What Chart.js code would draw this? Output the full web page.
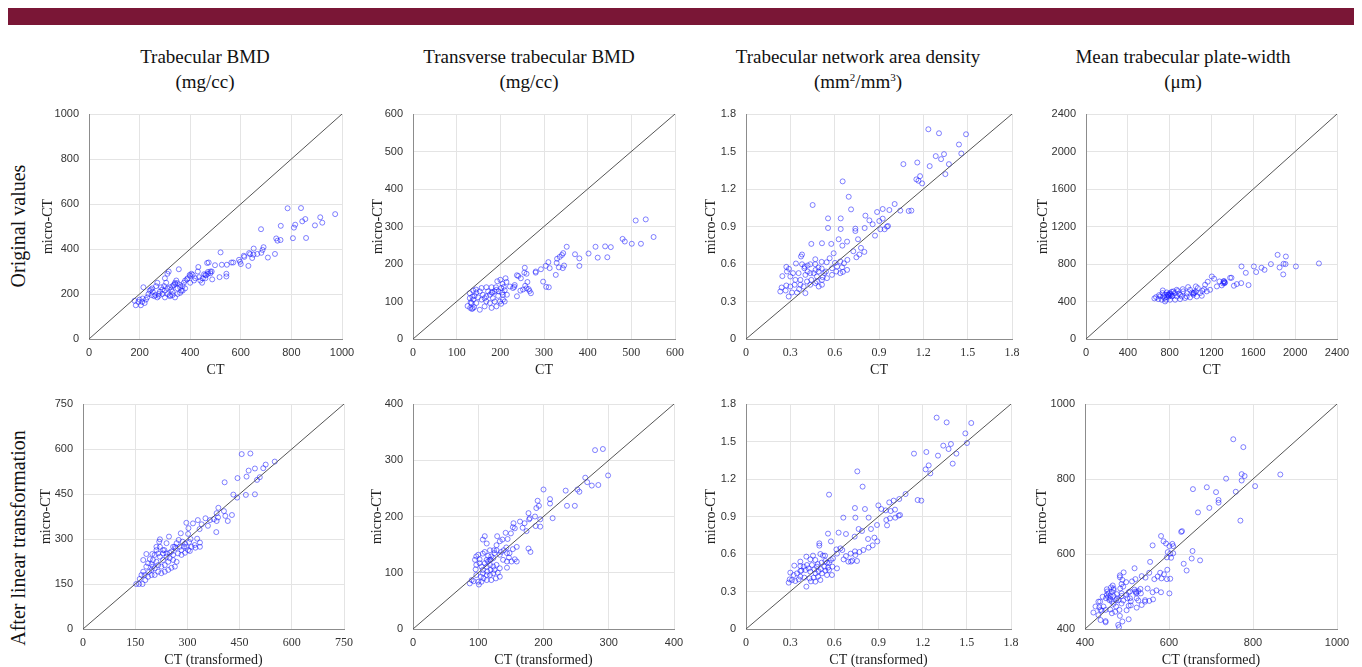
<!DOCTYPE html>
<html>
<head>
<meta charset="utf-8">
<script src="https://cdn.jsdelivr.net/npm/chart.js@4.4.1/dist/chart.umd.min.js"></script>
<style>
  body { margin: 0; background: #fff; width: 1362px; height: 667px; overflow: hidden; position: relative; font-family: "Liberation Serif", serif; }
  .bar { position: absolute; left: 8px; top: 8px; width: 1346px; height: 17px; background: #7a1636; }
  .ct { position: absolute; width: 320px; text-align: center; font-size: 19px; line-height: 25px; color: #111; }
  .ct sup { font-size: 11px; line-height: 0; }
  .rl { position: absolute; font-size: 20px; color: #111; white-space: nowrap; transform: translate(-50%, -50%) rotate(-90deg); }
  canvas { position: absolute; }
</style>
</head>
<body>
<div class="bar"></div>
<div id="titles"></div>
<div id="plots"></div>
<script>
// --- titles ---
const colTitles = ['Trabecular BMD', 'Transverse trabecular BMD', 'Trabecular network area density', 'Mean trabecular plate-width'];
const colUnits = ['(mg/cc)', '(mg/cc)', '(mm<sup>2</sup>/mm<sup>3</sup>)', '(μm)'];
const rowLabels = ['Original values', 'After linear transformation'];

// --- axis ranges and tick labels ---
const bmdTicks = [0, 200, 400, 600, 800, 1000];
const tbmdTicks = [0, 100, 200, 300, 400, 500, 600];
const tnadTicks = [0, 0.3, 0.6, 0.9, 1.2, 1.5, 1.8];
const tpwTicks = [0, 400, 800, 1200, 1600, 2000, 2400];
const bmdTransTicks = [0, 150, 300, 450, 600, 750];
const tbmdTransTicks = [0, 100, 200, 300, 400];
const tnadTransTicks = [0, 0.3, 0.6, 0.9, 1.2, 1.5, 1.8];
const tpwTransTicks = [400, 600, 800, 1000];

// --- points [CT, micro-CT] ---
const bmdOrig = [[785,581],[838,582],[914,541],[973,555],[922,517],[893,505],[855,533],[843,523],[815,508],[810,495],[758,503],[680,488],[740,447],[745,437],[757,440],[806,448],[858,449],[735,378],[707,362],[690,408],[686,396],[681,383],[665,378],[650,375],[645,360],[637,377],[633,382],[630,325],[651,402],[612,370],[614,365],[593,352],[597,343],[600,333],[570,340],[563,340],[545,330],[543,290],[543,278],[525,330],[520,385],[516,275],[498,328],[485,300],[487,265],[480,292],[473,340],[467,338],[470,290],[463,283],[455,288],[450,270],[447,250],[435,275],[432,320],[430,300],[420,270],[415,260],[405,290],[398,285],[400,250],[387,265],[375,250],[370,235],[365,215],[360,230],[355,310],[350,248],[345,260],[340,250],[335,240],[330,210],[325,220],[320,195],[315,300],[310,290],[305,250],[300,270],[297,235],[290,220],[285,230],[280,210],[276,192],[270,250],[265,235],[262,195],[258,190],[252,210],[250,225],[248,195],[245,220],[240,215],[235,200],[230,185],[225,175],[220,160],[215,230],[212,180],[210,165],[205,150],[200,175],[195,165],[185,150],[180,170],[300,185],[310,200],[320,190],[330,195],[340,185],[350,200],[360,205],[370,215],[380,225],[270,185],[275,200],[290,200],[300,215],[310,225],[320,230],[330,235],[340,245],[350,225],[360,240],[380,260],[390,270],[400,280],[410,285],[440,260],[460,285],[470,298],[480,300],[460,270]];
const tbmdOrig = [[510,316],[533,319],[551,272],[501,254],[522,254],[485,260],[480,267],[440,247],[453,245],[418,246],[445,218],[423,217],[402,228],[381,215],[381,195],[371,226],[352,246],[344,229],[341,224],[336,219],[330,214],[329,203],[334,191],[343,189],[346,196],[327,171],[310,205],[313,189],[304,195],[293,186],[281,177],[281,180],[298,153],[305,139],[311,138],[267,128],[257,142],[262,152],[255,177],[256,190],[260,174],[247,162],[241,168],[238,170],[233,144],[232,139],[229,136],[238,114],[246,129],[252,132],[260,135],[265,133],[270,122],[222,140],[212,162],[200,158],[205,147],[193,154],[190,138],[210,130],[206,118],[196,127],[187,127],[180,124],[176,118],[172,127],[160,118],[153,127],[145,124],[141,115],[138,105],[134,96],[130,109],[125,88],[131,83],[135,80],[153,78],[164,87],[176,96],[187,100],[199,100],[206,105],[210,100],[202,94],[191,87],[180,83],[168,100],[157,105],[145,96],[140,85],[137,82],[130,122],[138,129],[144,132],[157,136],[168,138],[180,138],[191,131],[202,136],[208,139],[214,152],[195,115],[183,109],[164,109],[132,98],[136,113],[149,111],[168,114],[182,124],[204,124],[215,118]];
const tnadOrig = [[1.234,1.678],[1.306,1.646],[1.489,1.638],[1.441,1.556],[1.457,1.484],[1.284,1.463],[1.32,1.439],[1.34,1.479],[1.373,1.399],[1.349,1.319],[1.243,1.383],[1.065,1.399],[1.159,1.412],[1.153,1.277],[1.167,1.266],[1.178,1.303],[1.192,1.245],[0.654,1.261],[0.695,1.138],[0.451,1.072],[1.006,1.08],[1.044,1.027],[1.101,1.024],[1.119,1.027],[0.97,1.032],[0.925,1.04],[0.887,1.016],[0.808,0.987],[0.711,1.037],[0.641,0.965],[0.555,0.965],[0.641,0.88],[0.555,0.888],[0.74,0.883],[0.74,0.864],[0.803,0.888],[0.857,0.918],[0.835,0.949],[0.902,0.944],[0.925,0.963],[0.954,0.899],[0.961,0.904],[0.938,0.878],[0.909,0.878],[0.873,0.827],[0.758,0.798],[0.627,0.798],[0.442,0.761],[0.514,0.766],[0.577,0.761],[0.652,0.747],[0.684,0.779],[0.778,0.729],[0.726,0.702],[0.801,0.697],[0.767,0.676],[0.747,0.654],[0.686,0.633],[0.663,0.606],[0.602,0.609],[0.611,0.54],[0.656,0.537],[0.65,0.574],[0.638,0.62],[0.593,0.686],[0.566,0.646],[0.546,0.614],[0.512,0.617],[0.49,0.572],[0.512,0.564],[0.469,0.638],[0.471,0.553],[0.458,0.527],[0.435,0.598],[0.417,0.588],[0.397,0.58],[0.379,0.598],[0.379,0.676],[0.372,0.66],[0.338,0.604],[0.291,0.561],[0.273,0.577],[0.246,0.503],[0.277,0.54],[0.3,0.5],[0.334,0.473],[0.368,0.473],[0.402,0.513],[0.435,0.527],[0.48,0.5],[0.519,0.495],[0.541,0.54],[0.582,0.566],[0.616,0.58],[0.638,0.527],[0.684,0.553],[0.329,0.434],[0.3,0.42],[0.273,0.428],[0.232,0.38],[0.241,0.412],[0.268,0.388],[0.289,0.34],[0.311,0.372],[0.345,0.372],[0.359,0.399],[0.39,0.42],[0.413,0.46],[0.435,0.434],[0.469,0.447],[0.492,0.42],[0.514,0.473],[0.548,0.487],[0.582,0.513],[0.402,0.367],[0.368,0.434],[0.442,0.473],[0.48,0.46],[0.514,0.434],[0.53,0.527],[0.492,0.54],[0.417,0.54],[0.356,0.527],[0.318,0.527],[0.469,0.598],[0.395,0.566]];
const tpwOrig = [[1832,898],[1911,880],[1768,799],[1889,802],[1908,799],[2007,774],[2227,806],[1851,763],[1886,689],[1487,774],[1605,774],[1678,760],[1707,738],[1627,714],[1528,706],[1484,596],[1554,575],[1442,586],[1414,568],[1378,653],[1391,653],[1330,604],[1321,618],[1311,593],[1298,572],[1276,614],[1251,561],[1225,643],[1203,667],[1187,525],[1164,611],[1139,579],[1129,532],[1155,508],[1113,515],[1091,490],[1069,543],[1050,504],[1027,472],[1014,497],[995,525],[963,454],[963,490],[931,508],[915,454],[900,472],[868,454],[868,525],[852,490],[836,508],[820,454],[804,490],[788,472],[772,447],[756,472],[740,454],[731,490],[708,454],[692,426],[670,447],[654,433],[724,419],[756,401],[804,419],[852,419],[900,426],[947,437],[995,444],[1059,454],[1107,461],[772,497],[820,504],[877,511],[925,532],[976,554],[1050,561],[765,419],[791,454],[813,479],[829,461],[887,483],[750,437],[734,518],[699,468],[790,470],[800,480],[810,465],[780,475],[1320,605],[1325,595],[1315,615],[1030,490],[1035,495],[1025,485]];

const bmdTrans = [[456,583],[481,585],[551,558],[525,548],[518,536],[494,535],[476,528],[470,508],[508,506],[500,497],[407,489],[444,503],[468,447],[494,449],[432,448],[443,438],[428,380],[416,360],[409,377],[405,393],[389,404],[384,386],[388,372],[384,360],[376,366],[365,363],[359,344],[352,369],[341,349],[335,333],[383,323],[330,363],[316,352],[297,354],[303,336],[302,317],[309,300],[305,290],[328,301],[336,288],[336,274],[323,271],[307,260],[290,274],[281,319],[293,284],[286,291],[275,297],[269,286],[278,274],[266,269],[259,274],[254,258],[247,308],[240,286],[234,263],[230,252],[221,274],[219,291],[216,252],[211,263],[206,247],[201,230],[192,233],[197,216],[187,219],[182,208],[190,191],[177,180],[173,191],[168,180],[163,167],[161,150],[153,150],[171,150],[179,163],[187,174],[197,180],[206,180],[216,191],[225,186],[235,191],[245,197],[254,204],[264,208],[269,224],[259,230],[249,236],[240,241],[230,230],[221,241],[211,224],[201,208],[245,224],[235,213],[225,208],[216,213],[206,202],[197,197],[230,263],[240,252],[249,254],[259,247],[273,252],[283,247],[293,254],[302,263],[312,274],[321,280],[173,230],[182,250],[199,250],[211,274],[221,299],[264,274],[283,263],[297,274]];
const tbmdTrans = [[279,318],[291,320],[299,273],[264,269],[267,261],[274,255],[284,256],[234,246],[252,248],[255,244],[200,248],[236,219],[248,219],[214,197],[210,231],[210,223],[191,228],[193,219],[189,215],[187,200],[195,195],[195,182],[188,183],[177,206],[179,197],[178,195],[174,174],[177,143],[180,137],[164,191],[171,188],[168,180],[154,188],[156,179],[153,181],[150,170],[142,171],[145,160],[137,159],[133,156],[139,140],[143,145],[144,135],[147,127],[156,124],[159,120],[151,120],[148,135],[153,142],[159,146],[144,109],[128,140],[124,140],[118,140],[129,165],[128,149],[123,126],[119,123],[115,130],[110,137],[113,152],[107,159],[110,165],[100,132],[102,124],[95,123],[97,114],[96,106],[97,96],[100,84],[101,79],[93,85],[90,87],[87,81],[104,93],[107,99],[113,96],[118,96],[123,99],[125,105],[130,100],[133,108],[107,105],[113,111],[118,114],[123,111],[128,114],[110,117],[118,123],[105,111],[102,117],[113,123],[120,129],[125,135],[133,132],[135,137],[107,134],[115,120],[97,129],[138,123],[144,120],[119,105],[114,102],[108,90],[105,84],[113,87],[120,87],[127,90],[133,93]];
const tnadTrans = [[1.295,1.691],[1.363,1.653],[1.53,1.648],[1.49,1.565],[1.501,1.488],[1.392,1.48],[1.34,1.467],[1.376,1.44],[1.429,1.403],[1.304,1.387],[1.141,1.403],[1.225,1.416],[1.22,1.277],[1.241,1.309],[1.252,1.245],[1.404,1.323],[0.756,1.261],[0.792,1.139],[0.564,1.075],[1.084,1.08],[1.166,1.032],[1.191,1.027],[1.041,1.04],[1.003,1.027],[0.973,1.013],[0.899,0.989],[0.919,0.96],[0.949,0.949],[0.983,0.944],[1.012,0.955],[1.037,0.907],[1.046,0.912],[1.014,0.891],[0.978,0.885],[0.953,0.872],[0.833,0.891],[0.74,0.968],[0.661,0.891],[0.743,0.891],[0.808,0.96],[0.765,0.8],[0.849,0.8],[0.958,0.829],[0.89,0.832],[0.788,0.784],[0.557,0.763],[0.629,0.771],[0.679,0.76],[0.738,0.739],[0.829,0.72],[0.872,0.731],[0.86,0.669],[0.892,0.701],[0.833,0.651],[0.797,0.632],[0.74,0.621],[0.77,0.616],[0.711,0.603],[0.722,0.547],[0.695,0.539],[0.754,0.544],[0.743,0.592],[0.713,0.539],[0.498,0.685],[0.498,0.667],[0.577,0.701],[0.614,0.637],[0.641,0.645],[0.654,0.632],[0.679,0.584],[0.663,0.557],[0.618,0.603],[0.591,0.565],[0.577,0.552],[0.55,0.531],[0.564,0.531],[0.539,0.544],[0.523,0.587],[0.537,0.587],[0.505,0.6],[0.455,0.587],[0.437,0.557],[0.41,0.579],[0.369,0.504],[0.376,0.467],[0.405,0.472],[0.426,0.485],[0.464,0.477],[0.473,0.445],[0.493,0.461],[0.509,0.48],[0.532,0.499],[0.557,0.491],[0.587,0.499],[0.618,0.485],[0.584,0.432],[0.55,0.432],[0.516,0.445],[0.489,0.419],[0.471,0.379],[0.441,0.381],[0.41,0.339],[0.432,0.405],[0.396,0.411],[0.369,0.419],[0.358,0.397],[0.335,0.384],[0.312,0.392],[0.297,0.397],[0.29,0.371],[0.324,0.432],[0.346,0.445],[0.369,0.464],[0.392,0.499],[0.414,0.512],[0.448,0.512],[0.482,0.499],[0.514,0.531],[0.487,0.52],[0.471,0.552],[0.437,0.459],[0.46,0.411],[0.505,0.392],[0.539,0.467],[0.564,0.472],[0.369,0.539],[0.328,0.507],[0.301,0.451]];
const tpwTrans = [[753,906],[777,885],[773,813],[780,808],[773,796],[865,812],[805,781],[736,801],[759,766],[690,778],[712,765],[718,744],[718,737],[696,723],[669,711],[657,773],[770,689],[631,661],[629,659],[581,648],[587,634],[608,627],[610,621],[593,628],[601,621],[597,605],[603,601],[610,602],[595,591],[605,590],[656,608],[654,588],[635,574],[642,556],[674,583],[561,623],[555,579],[579,550],[588,546],[595,533],[603,534],[596,558],[573,540],[565,533],[553,550],[544,537],[535,541],[518,562],[520,533],[512,527],[532,507],[549,508],[553,475],[562,479],[570,503],[581,498],[601,495],[582,535],[561,498],[533,495],[527,501],[522,498],[507,482],[509,474],[509,463],[504,426],[483,435],[479,411],[481,405],[489,420],[499,450],[504,462],[501,482],[489,531],[492,551],[483,538],[483,543],[498,525],[491,513],[484,508],[487,495],[476,493],[468,504],[464,499],[461,488],[456,495],[452,506],[450,482],[458,477],[464,473],[468,467],[474,477],[480,477],[487,468],[491,476],[474,460],[460,452],[449,451],[437,451],[432,437],[437,424],[449,418],[449,421],[444,460],[436,473],[442,486],[452,491],[468,488],[476,482],[487,488],[498,491],[504,498],[507,500],[420,444],[425,460],[432,473],[434,458],[440,449],[464,442],[472,446],[482,451],[523,457],[535,464],[543,473],[543,477],[527,476],[523,482],[487,520],[466,516],[462,511],[453,500],[468,508],[520,500],[522,495],[518,505],[455,485],[460,480]];

// --- panel layout: plot area [left, top, right, bottom], y-title offset, x tick font ---
const panels = [
  { pts: bmdOrig,   ticks: bmdTicks,       area: [89, 114, 342, 339],   yOff: 41, xTitle: 'CT', xSerif: false },
  { pts: tbmdOrig,  ticks: tbmdTicks,      area: [413, 114, 675, 339],  yOff: 35, xTitle: 'CT', xSerif: true },
  { pts: tnadOrig,  ticks: tnadTicks,      area: [746, 114, 1012, 339], yOff: 35, xTitle: 'CT', xSerif: true },
  { pts: tpwOrig,   ticks: tpwTicks,       area: [1086, 114, 1337, 339], yOff: 43, xTitle: 'CT', xSerif: false },
  { pts: bmdTrans,  ticks: bmdTransTicks,  area: [83, 404, 344, 629],   yOff: 37, xTitle: 'CT (transformed)', xSerif: true },
  { pts: tbmdTrans, ticks: tbmdTransTicks, area: [413, 404, 674, 629],  yOff: 36, xTitle: 'CT (transformed)', xSerif: false },
  { pts: tnadTrans, ticks: tnadTransTicks, area: [746, 404, 1011, 629], yOff: 35, xTitle: 'CT (transformed)', xSerif: true },
  { pts: tpwTrans,  ticks: tpwTransTicks,  area: [1085, 404, 1337, 629], yOff: 43, xTitle: 'CT (transformed)', xSerif: false }
];

// column titles + row labels
const titleCenters = [205, 529, 858, 1183];
const titlesDiv = document.getElementById('titles');
colTitles.forEach((t, i) => {
  const d = document.createElement('div');
  d.className = 'ct';
  d.style.left = (titleCenters[i] - 160) + 'px';
  d.style.top = '44px';
  d.innerHTML = t + '<br>' + colUnits[i];
  titlesDiv.appendChild(d);
});
const rowCenters = [226, 538];
rowLabels.forEach((t, i) => {
  const d = document.createElement('div');
  d.className = 'rl';
  d.style.left = '18px';
  d.style.top = rowCenters[i] + 'px';
  d.textContent = t;
  titlesDiv.appendChild(d);
});

// tick padding pushes chart area down, so top pad must cover it
const PAD_TOP = 22, PAD_RIGHT = 24, X_H = 40;
const sans = 'Liberation Sans', serif = 'Liberation Serif';

function makePanel(p) {
  const [L, T, R, B] = p.area;
  const yW = p.yOff + 8;
  const c = document.createElement('canvas');
  const w = (R - L) + yW + PAD_RIGHT, h = (B - T) + PAD_TOP + X_H;
  c.width = w; c.height = h;
  c.style.left = (L - yW) + 'px';
  c.style.top = (T - PAD_TOP) + 'px';
  c.style.width = w + 'px'; c.style.height = h + 'px';
  document.getElementById('plots').appendChild(c);

  const lo = p.ticks[0], hi = p.ticks[p.ticks.length - 1];
  const setTicks = s => { s.ticks = p.ticks.map(v => ({ value: v })); };

  new Chart(c, {
    type: 'scatter',
    data: {
      datasets: [
        {
          data: [{ x: lo, y: lo }, { x: hi, y: hi }],
          showLine: true, borderColor: '#555', borderWidth: 1, pointRadius: 0
        },
        {
          data: p.pts.map(d => ({ x: d[0], y: d[1] })),
          pointRadius: 2.5, borderWidth: 0.9,
          borderColor: 'rgba(25,25,255,0.6)', backgroundColor: 'rgba(0,0,0,0)'
        }
      ]
    },
    options: {
      responsive: false, animation: false,
      layout: { padding: { top: PAD_TOP, right: PAD_RIGHT, left: 0, bottom: 0 } },
      plugins: { legend: { display: false }, tooltip: { enabled: false } },
      scales: {
        x: {
          type: 'linear', min: lo, max: hi,
          afterBuildTicks: setTicks,
          afterFit: s => { s.height = X_H; },
          grid: { color: '#e4e4e4', drawTicks: false },
          border: { color: '#8c8c8c' },
          ticks: { padding: 7, color: '#333', maxRotation: 0,
                   font: p.xSerif ? { family: serif, size: 12 } : { family: sans, size: 11 },
                   callback: v => String(v) },
          title: { display: true, text: p.xTitle, color: '#222', padding: 0,
                   font: { family: serif, size: 14 } }
        },
        y: {
          type: 'linear', min: lo, max: hi,
          afterBuildTicks: setTicks,
          afterFit: s => { s.width = yW; },
          grid: { color: '#e4e4e4', drawTicks: false },
          border: { color: '#8c8c8c' },
          ticks: { padding: 10, color: '#333', font: { family: sans, size: 11 },
                   callback: v => String(v) },
          title: { display: true, text: 'micro-CT', color: '#222', padding: 0,
                   font: { family: serif, size: 14 } }
        }
      }
    }
  });
}

panels.forEach(makePanel);
</script>
</body>
</html>
